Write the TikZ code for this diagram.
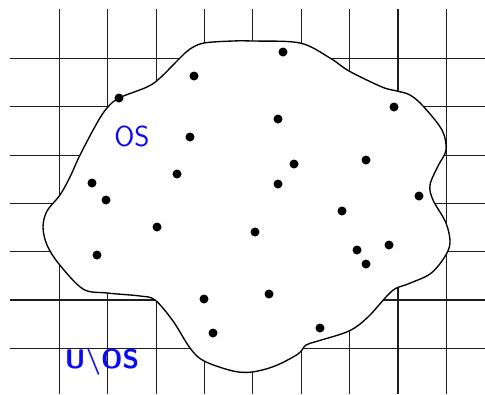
\documentclass[tikz,border=0pt]{standalone}
\usepackage{tikz}
\definecolor{labelblue}{RGB}{10,10,245}
\definecolor{gridgray}{RGB}{30,30,30}
\tikzset{
  gridline/.style={draw=gridgray, line width=1.1pt},
  region/.style={draw=black, fill=white, line width=1.35pt},
  point/.style={circle, fill=black, inner sep=0pt, minimum size=9pt},
  setlabel/.style={text=labelblue, font=\sffamily\fontsize{29}{29}\selectfont, inner sep=0pt},
}
\begin{document}
\begin{tikzpicture}[x=1pt, y=-1pt]
\useasboundingbox (0,0) rectangle (485,394);
% square grid
\foreach \k in {0,...,8}
  \draw[gridline] ({59.5+48.35*\k},9) -- ({59.5+48.35*\k},394);
\foreach \k in {0,...,6}
  \draw[gridline] (10,{58.5+48.3*\k}) -- (485,{58.5+48.3*\k});
% the open set
\draw[region] plot[smooth cycle, tension=0.55] coordinates {
  (204,43) (233,41) (252,41) (300,43) (330,58) (349,71) (382,87) (397,91)
  (410,95) (423,106) (442,130) (446,150) (438,166) (430,185) (433,200)
  (446,223) (450,243) (444,258) (430,274) (408,284) (392,291) (368,317)
  (349,331) (318,341) (306,345) (298,354) (275,366) (252,372) (233,371)
  (204,361) (190,348) (173,321) (155,300) (140,296) (107,293) (83,289)
  (59,264) (47,245) (43,227) (47,211) (60,195) (70,177) (80,155) (97,123)
  (107,108) (119,98) (147,87) (160,78) (180,58) (190,49)};
% sample points
\foreach \px/\py [count=\i] in {
  194/76, 119/98, 190/137, 177/174, 92/183, 106/200,
  283/52, 394/107, 278/119, 366/160, 294/164, 278/184, 419/196,
  157/227, 97/255, 204/299, 213/333,
  342/211, 255/232, 357/250, 389/245, 366/264, 269/294, 320/328}
  \node[point] (p\i) at (\px,\py) {};
% labels
\node[setlabel] (os) at (132,136) {OS};
\node[setlabel, font=\sffamily\bfseries\fontsize{27}{27}\selectfont] (comp) at (102,362) {U\textbackslash OS};
\end{tikzpicture}
\end{document}
